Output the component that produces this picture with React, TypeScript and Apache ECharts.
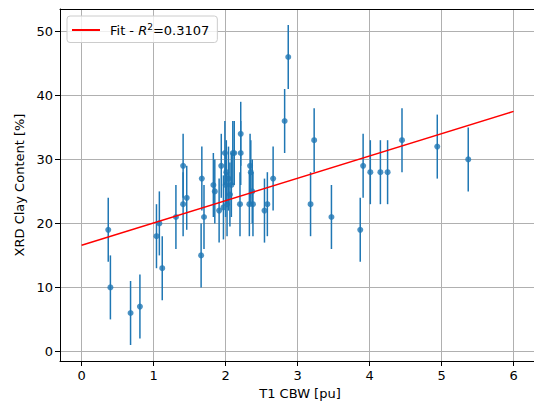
import React, { useEffect, useRef } from "react";
import * as echarts from "echarts";

const cbw = [
  0.37, 0.4, 0.68, 0.81, 1.04, 1.08, 1.12, 1.31, 1.41, 1.41, 1.46, 1.66, 1.67,
  1.7, 1.83, 1.85, 1.91, 1.94, 1.97, 1.99, 2.0, 2.01, 2.02, 2.04, 2.06, 2.08,
  2.1, 2.12, 2.2, 2.21, 2.21, 2.33, 2.34, 2.35, 2.37, 2.38, 2.54, 2.58, 2.66,
  2.82, 2.87, 3.18, 3.23, 3.47, 3.87, 3.91, 4.01, 4.15, 4.25, 4.45, 4.94, 5.37,
];
const clay = [
  19, 10, 6, 7, 18, 20, 13, 21, 29, 23, 24, 15, 27,
  21, 26, 25, 22, 29, 22.5, 31, 26, 28, 23, 27, 24.5, 26,
  31, 31, 23, 34, 31, 23, 29, 28, 25, 23, 22, 23, 27,
  36, 46, 23, 33, 21, 19, 29, 28, 28, 28, 33, 32, 30,
];
const clayErr = clay.map(() => 5);
const fitX = [0, 6];
const fitY = [16.6, 37.5];
const xTicks = [0, 1, 2, 3, 4, 5, 6];
const yTicks = [0, 10, 20, 30, 40, 50];
const xLabel = "T1 CBW [pu]";
const yLabel = "XRD Clay Content [%]";

export default function App() {
  const ref = useRef<HTMLDivElement>(null);
  useEffect(() => {
    if (!ref.current) return;
    const chart = echarts.init(ref.current, null, { renderer: "svg" });
    const font = "DejaVu Sans";
    const pts = cbw.map((x, i) => [x, clay[i], clayErr[i]]);
    chart.setOption({
      animation: false,
      textStyle: { fontFamily: font },
      grid: {
        left: 60,
        top: 9,
        right: 0,
        bottom: 44,
        show: false,
      },
      legend: {
        show: true,
        left: 67,
        top: 16,
        orient: "vertical",
        data: [{ name: "Fit", icon: "rect" }],
        itemWidth: 28,
        itemHeight: 2,
        padding: [6, 8, 6, 5],
        backgroundColor: "rgba(255,255,255,0.8)",
        borderColor: "#cccccc",
        borderWidth: 1,
        borderRadius: 3,
        formatter: () => "{a|Fit - }{i|R}{s|2}{a|=0.3107}",
        textStyle: {
          fontFamily: font,
          fontSize: 13,
          color: "#000",
          padding: [0, 0, 0, 5],
          rich: {
            a: { fontFamily: font, fontSize: 13, color: "#000", lineHeight: 16 },
            i: { fontFamily: font, fontSize: 13, color: "#000", fontStyle: "italic", lineHeight: 16 },
            s: { fontFamily: font, fontSize: 9, color: "#000", verticalAlign: "top", lineHeight: 16 },
          },
        },
      },
      xAxis: [
        {
          type: "value",
          min: -0.3,
          max: 6.3667,
          name: xLabel,
          nameLocation: "middle",
          nameGap: 25,
          nameTextStyle: { fontFamily: font, fontSize: 13, color: "#000" },
          axisLine: { show: true, onZero: false, lineStyle: { color: "#000", width: 1 } },
          axisTick: {
            show: true,
            customValues: xTicks,
            length: 5,
            inside: false,
            lineStyle: { color: "#000", width: 1 },
          },
          axisLabel: {
            customValues: xTicks,
            margin: 8,
            fontFamily: font,
            fontSize: 13,
            color: "#000",
          },
          splitLine: { show: true, lineStyle: { color: "#b0b0b0", width: 1 } },
        },
        {
          type: "value",
          position: "top",
          min: -0.3,
          max: 6.3667,
          axisLine: { show: true, onZero: false, lineStyle: { color: "#000", width: 1 } },
          axisTick: { show: false },
          axisLabel: { show: false },
          splitLine: { show: false },
        },
      ],
      yAxis: {
        type: "value",
        min: -1.5,
        max: 53.5,
        name: yLabel,
        nameLocation: "middle",
        nameGap: 33,
        nameTextStyle: { fontFamily: font, fontSize: 13, color: "#000" },
        axisLine: { show: true, onZero: false, lineStyle: { color: "#000", width: 1 } },
        axisTick: {
          show: true,
          customValues: yTicks,
          length: 5,
          inside: false,
          lineStyle: { color: "#000", width: 1 },
        },
        axisLabel: {
          customValues: yTicks,
          margin: 7,
          fontFamily: font,
          fontSize: 13,
          color: "#000",
        },
        splitLine: { show: true, lineStyle: { color: "#b0b0b0", width: 1 } },
      },
      series: [
        {
          type: "custom",
          name: "err",
          data: pts,
          encode: { x: 0, y: 1 },
          renderItem: (params: any, api: any) => {
            const x = api.value(0);
            const y = api.value(1);
            const e = api.value(2);
            const p1 = api.coord([x, y - e]);
            const p2 = api.coord([x, y + e]);
            return {
              type: "line",
              shape: { x1: p1[0], y1: p1[1], x2: p2[0], y2: p2[1] },
              style: { stroke: "#1f77b4", lineWidth: 1.5 },
            };
          },
          z: 2,
        },
        {
          type: "scatter",
          name: "data",
          data: pts.map((p) => [p[0], p[1]]),
          symbol: "circle",
          symbolSize: 6,
          itemStyle: { color: "#1f77b4" },
          z: 3,
        },
        {
          type: "line",
          name: "Fit",
          data: fitX.map((x, i) => [x, fitY[i]]),
          showSymbol: false,
          symbol: "none",
          lineStyle: { color: "#ff0000", width: 1.5 },
          itemStyle: { color: "#ff0000" },
          z: 4,
        },
      ],
    });
    return () => chart.dispose();
  }, []);
  return (
    <div
      style={{
        position: "fixed",
        left: 0,
        top: 0,
        width: 534,
        height: 405,
        overflow: "hidden",
        background: "#fff",
      }}
    >
      <div ref={ref} style={{ width: 540, height: 405 }} />
    </div>
  );
}
